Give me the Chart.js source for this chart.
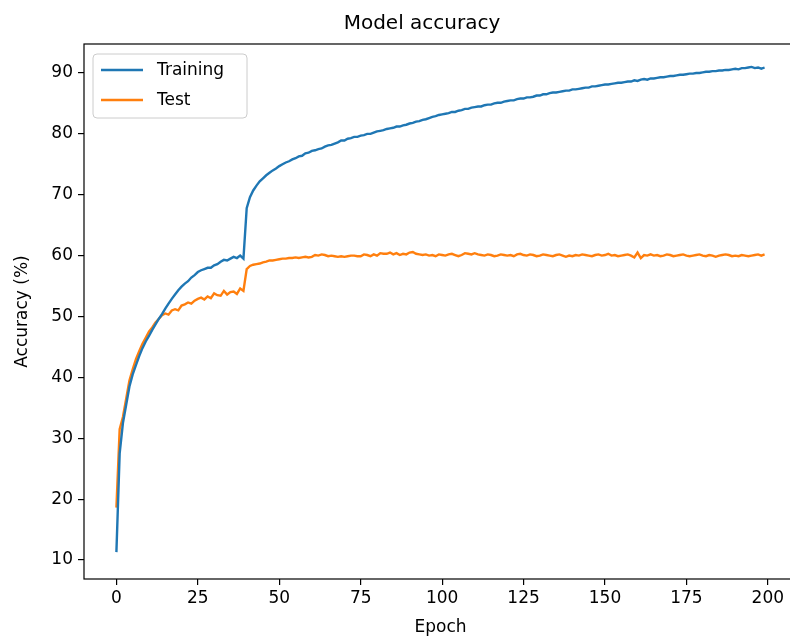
<!DOCTYPE html>
<html>
<head>
<meta charset="utf-8">
<script src="https://cdn.jsdelivr.net/npm/chart.js@4/dist/chart.umd.min.js"></script>
<style>
  html, body { margin: 0; padding: 0; background: #fff; overflow: hidden; }
  #wrap { width: 800px; height: 638px; position: relative; }
</style>
</head>
<body>
<div id="wrap"><canvas id="myChart"></canvas></div>
<script>
const chartTitle = 'Model accuracy';
const seriesNames = ['Training', 'Test'];
const xTicks = [0, 25, 50, 75, 100, 125, 150, 175, 200];
const yTicks = [10, 20, 30, 40, 50, 60, 70, 80, 90];

const training = [
    11.3, 27.5, 32.5, 35.5, 38.5, 40.5, 42.0, 43.5, 44.8, 45.9,
    46.8, 47.8, 48.7, 49.6, 50.4, 51.3, 52.1, 52.9, 53.6, 54.3,
    54.9, 55.4, 55.8, 56.4, 56.8, 57.3, 57.6, 57.8, 58.0, 58.0,
    58.4, 58.6, 59.0, 59.3, 59.2, 59.5, 59.8, 59.6, 60.0, 59.5,
    67.8, 69.6, 70.7, 71.5, 72.2, 72.7, 73.2, 73.6, 74.0, 74.3,
    74.7, 75.0, 75.3, 75.5, 75.8, 76.0, 76.3, 76.4, 76.8, 76.9,
    77.2, 77.3, 77.5, 77.6, 77.9, 78.1, 78.2, 78.4, 78.6, 78.9,
    78.9, 79.2, 79.3, 79.5, 79.5, 79.7, 79.8, 80.0, 80.0, 80.2,
    80.4, 80.5, 80.6, 80.8, 80.9, 81.0, 81.2, 81.2, 81.4, 81.5,
    81.7, 81.8, 82.0, 82.1, 82.3, 82.4, 82.6, 82.8, 82.9, 83.1,
    83.2, 83.3, 83.4, 83.6, 83.6, 83.8, 83.9, 84.1, 84.1, 84.3,
    84.4, 84.5, 84.5, 84.7, 84.8, 84.8, 85.0, 85.1, 85.1, 85.3,
    85.4, 85.5, 85.5, 85.7, 85.8, 85.8, 86.0, 86.0, 86.1, 86.3,
    86.3, 86.5, 86.5, 86.7, 86.8, 86.8, 86.9, 87.0, 87.1, 87.1,
    87.3, 87.3, 87.4, 87.5, 87.6, 87.6, 87.8, 87.8, 87.9, 88.0,
    88.1, 88.1, 88.2, 88.3, 88.4, 88.4, 88.5, 88.6, 88.6, 88.8,
    88.7, 88.9, 89.0, 88.9, 89.1, 89.1, 89.2, 89.3, 89.3, 89.4,
    89.5, 89.5, 89.6, 89.7, 89.7, 89.8, 89.9, 89.9, 90.0, 90.0,
    90.1, 90.2, 90.2, 90.3, 90.3, 90.4, 90.4, 90.5, 90.5, 90.6,
    90.7, 90.6, 90.8, 90.8, 90.9, 91.0, 90.8, 90.9, 90.7, 90.9
];

const test = [
    18.6, 31.5, 33.5, 36.5, 39.5, 41.3, 43.0, 44.3, 45.5, 46.5,
    47.5, 48.2, 49.0, 49.6, 50.2, 50.5, 50.3, 51.0, 51.2, 51.0,
    51.8, 52.0, 52.3, 52.1, 52.6, 52.9, 53.1, 52.8, 53.3, 53.0,
    53.8, 53.5, 53.4, 54.2, 53.6, 54.0, 54.1, 53.7, 54.6, 54.2,
    57.8, 58.3, 58.5, 58.6, 58.7, 58.9, 59.0, 59.2, 59.2, 59.3,
    59.4, 59.5, 59.5, 59.6, 59.6, 59.7, 59.6, 59.7, 59.8, 59.7,
    59.8, 60.1, 60.0, 60.2, 60.1, 59.9, 60.0, 59.9, 59.8, 59.9,
    59.8, 59.9, 60.0, 60.0, 59.9, 59.9, 60.2, 60.1, 59.9, 60.2,
    60.0, 60.4, 60.3, 60.3, 60.5, 60.2, 60.4, 60.1, 60.3, 60.2,
    60.5, 60.6, 60.3, 60.2, 60.1, 60.2, 60.0, 60.1, 59.9, 60.2,
    60.1, 60.0, 60.2, 60.3, 60.1, 59.9, 60.1, 60.4, 60.3, 60.2,
    60.4, 60.2, 60.1, 60.0, 60.2, 60.1, 59.9, 60.0, 60.2, 60.1,
    60.0, 60.1, 59.9, 60.2, 60.3, 60.1, 60.0, 60.2, 60.1, 59.9,
    60.0, 60.2, 60.1, 60.0, 59.9, 60.1, 60.2, 60.0, 59.8, 60.0,
    59.9, 60.1, 60.0, 60.2, 60.1, 60.0, 59.9, 60.1, 60.2, 60.0,
    60.1, 60.3, 60.0, 60.1, 59.9, 60.0, 60.1, 60.2, 60.0, 59.7,
    60.5, 59.6, 60.1, 60.0, 60.2, 60.0, 60.1, 59.9, 60.0, 60.2,
    60.1, 59.9, 60.0, 60.1, 60.2, 60.0, 59.9, 60.0, 60.1, 60.2,
    60.0, 59.9, 60.1, 60.0, 59.8, 60.0, 60.1, 60.2, 60.1, 59.9,
    60.0, 59.9, 60.1, 60.0, 59.9, 60.0, 60.1, 60.2, 60.0, 60.2
];

const colors = ['#1f77b4', '#ff7f0e'];
const FONT = 'DejaVu Sans';

function toPoints(values) {
    return values.map(function (v, i) { return { x: i, y: v }; });
}

// frame, title and legend drawn like matplotlib
const decorations = {
    id: 'decorations',
    afterDraw: function (chart) {
        const ctx = chart.ctx;
        const a = chart.chartArea;
        ctx.save();
        ctx.strokeStyle = '#000';
        ctx.lineWidth = 1.2;
        ctx.strokeRect(a.left, a.top, a.right - a.left, a.bottom - a.top);

        ctx.fillStyle = '#000';
        ctx.font = '20px "' + FONT + '"';
        ctx.textAlign = 'center';
        ctx.textBaseline = 'middle';
        ctx.fillText(chartTitle, 422, 24);

        // legend box
        const bx = 93, by = 54, bw = 154, bh = 64, r = 4;
        ctx.beginPath();
        ctx.moveTo(bx + r, by);
        ctx.arcTo(bx + bw, by, bx + bw, by + bh, r);
        ctx.arcTo(bx + bw, by + bh, bx, by + bh, r);
        ctx.arcTo(bx, by + bh, bx, by, r);
        ctx.arcTo(bx, by, bx + bw, by, r);
        ctx.closePath();
        ctx.fillStyle = 'rgba(255,255,255,0.8)';
        ctx.fill();
        ctx.strokeStyle = '#cccccc';
        ctx.lineWidth = 1;
        ctx.stroke();

        ctx.font = '17px "' + FONT + '"';
        ctx.textAlign = 'left';
        seriesNames.forEach(function (name, i) {
            const y = 70 + i * 30;
            ctx.strokeStyle = colors[i];
            ctx.lineWidth = 2.5;
            ctx.beginPath();
            ctx.moveTo(101, y);
            ctx.lineTo(143, y);
            ctx.stroke();
            ctx.fillStyle = '#000';
            ctx.fillText(name, 157, y + 1);
        });
        ctx.restore();
    }
};

const ctx = document.getElementById('myChart');

new Chart(ctx, {
    type: 'line',
    data: {
        datasets: [{
            label: seriesNames[0],
            data: toPoints(training),
            borderColor: colors[0],
            borderWidth: 2.4,
            pointRadius: 0,
            tension: 0
        }, {
            label: seriesNames[1],
            data: toPoints(test),
            borderColor: colors[1],
            borderWidth: 2.4,
            pointRadius: 0,
            tension: 0
        }]
    },
    options: {
        responsive: true,
        maintainAspectRatio: false,
        animation: false,
        layout: { padding: { top: 44, right: 3, left: 0, bottom: 0 } },
        plugins: {
            legend: { display: false },
            tooltip: { enabled: false }
        },
        scales: {
            x: {
                type: 'linear',
                min: -9.95,
                max: 208.95,
                afterBuildTicks: function (scale) {
                    scale.ticks = xTicks.map(function (v) { return { value: v }; });
                },
                afterFit: function (scale) { scale.height = 59; },
                border: { display: false },
                grid: { drawOnChartArea: false, drawTicks: true, tickLength: 6, color: '#000', lineWidth: 1.2 },
                ticks: { color: '#000', padding: 3, maxRotation: 0, font: { family: FONT, size: 17 } },
                title: { display: true, text: 'Epoch', color: '#000', padding: { top: 0, bottom: 0 }, font: { family: FONT, size: 17 } }
            },
            y: {
                min: 6.88,
                max: 94.76,
                afterBuildTicks: function (scale) {
                    scale.ticks = yTicks.map(function (v) { return { value: v }; });
                },
                afterFit: function (scale) { scale.width = 84; },
                border: { display: false },
                grid: { drawOnChartArea: false, drawTicks: true, tickLength: 6, color: '#000', lineWidth: 1.2 },
                ticks: { color: '#000', padding: 5, font: { family: FONT, size: 17 } },
                title: { display: true, text: 'Accuracy (%)', color: '#000', padding: { top: 12, bottom: 0 }, font: { family: FONT, size: 17 } }
            }
        }
    },
    plugins: [decorations]
});
</script>
</body>
</html>
